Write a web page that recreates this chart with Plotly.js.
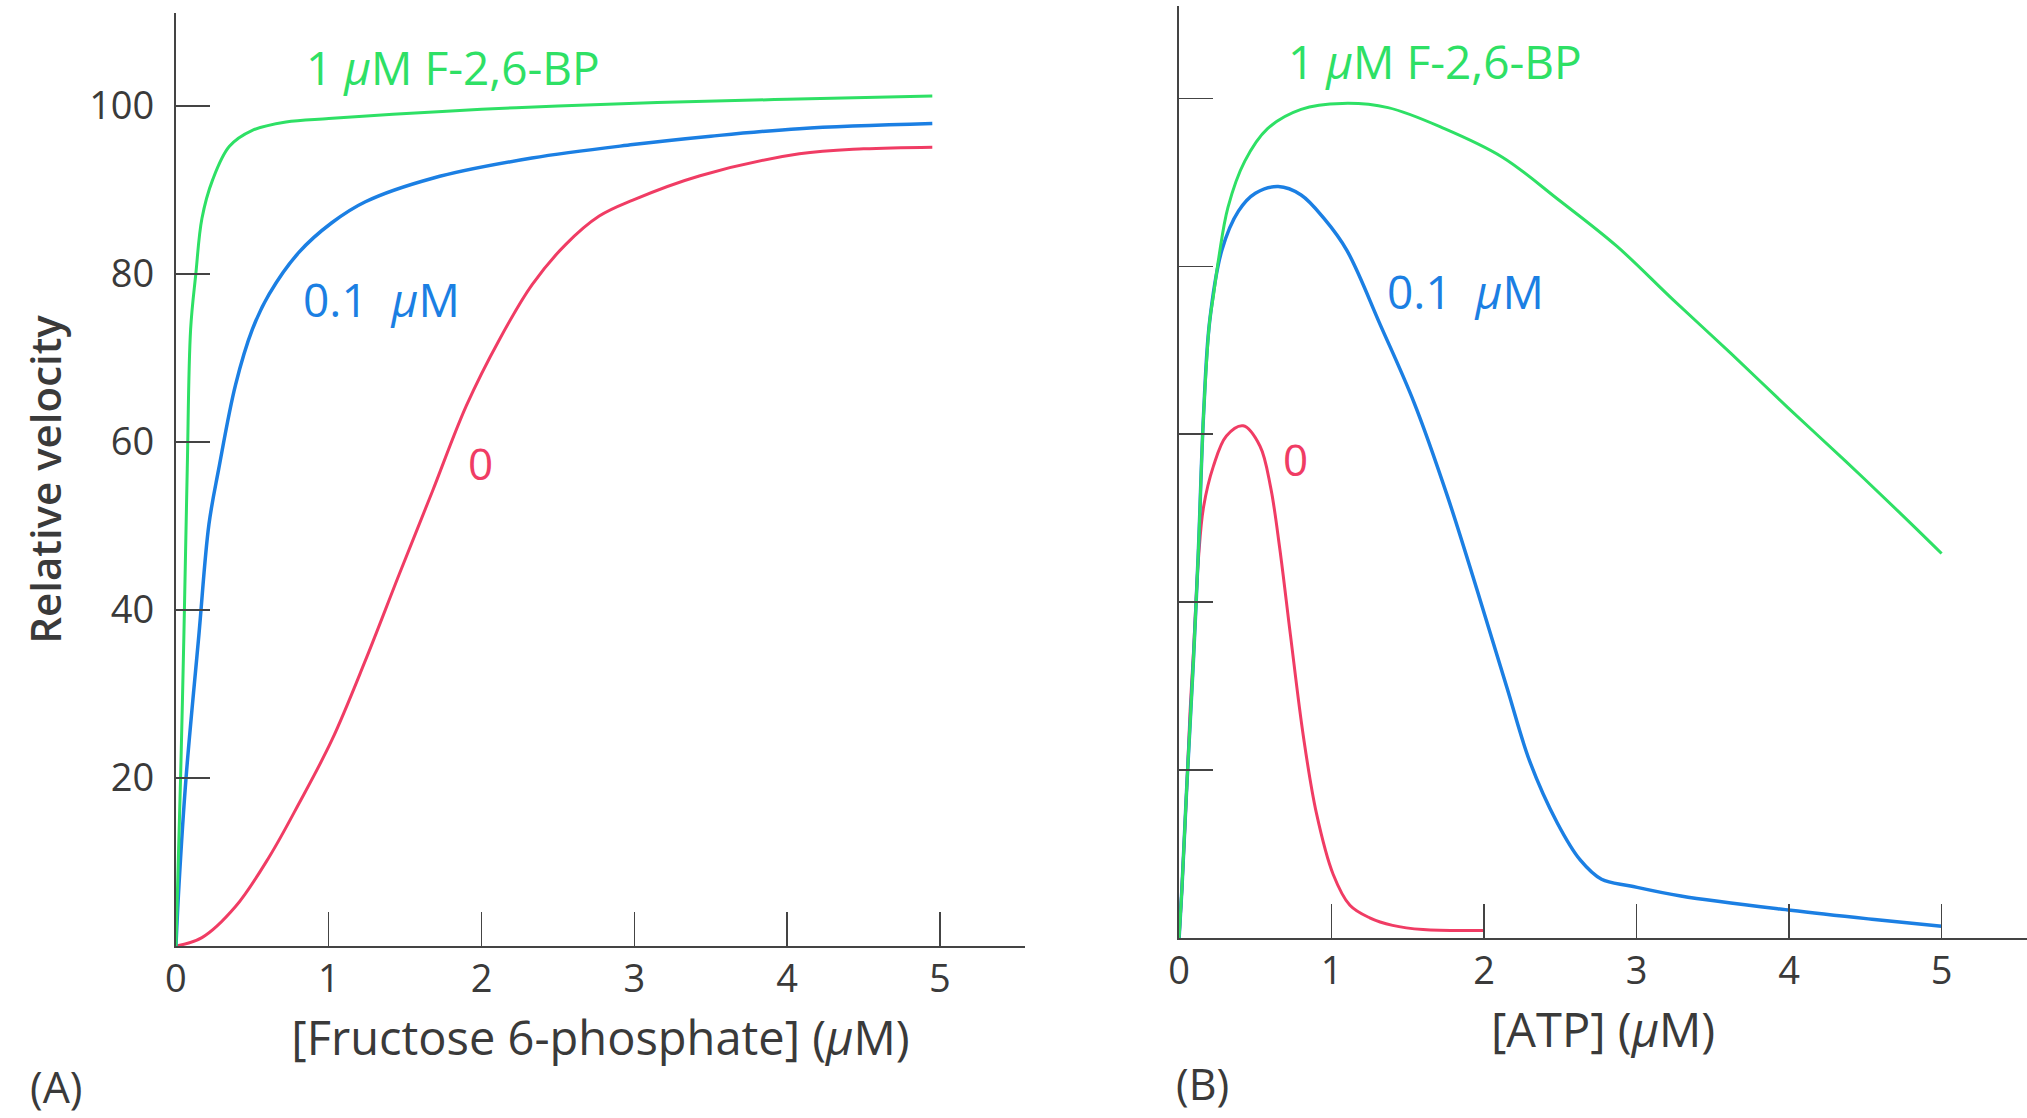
<!DOCTYPE html>
<html>
<head>
<meta charset="utf-8">
<script src="https://cdn.plot.ly/plotly-3.0.1.min.js"></script>
<style>html,body{margin:0;padding:0;background:#fff;}#chart{width:2027px;height:1118px;}</style>
</head>
<body>
<div id="chart"></div>
<script>
// Panel A: velocity vs [Fructose 6-phosphate]
const xA_green = [0, 0.031, 0.052, 0.074, 0.096, 0.13, 0.17, 0.24, 0.35, 0.5, 0.72, 1.0, 1.42, 2.0, 2.5, 3.15, 4.0, 4.95];
const yA_green = [0, 20.5, 37, 56.8, 73.4, 80, 86.6, 91.2, 95.2, 97.1, 98.1, 98.5, 99.0, 99.6, 100.0, 100.4, 100.8, 101.2];
const xA_blue = [0, 0.02, 0.066, 0.15, 0.216, 0.28, 0.39, 0.5, 0.61, 0.806, 1.02, 1.24, 1.68, 2.33, 2.99, 3.5, 4.08, 4.95];
const yA_blue = [0, 7.3, 20, 37, 50.2, 56.8, 66.8, 73.4, 77.6, 82.6, 86.1, 88.6, 91.4, 93.8, 95.4, 96.4, 97.3, 97.9];
const xA_red = [0, 0.17, 0.39, 0.61, 0.806, 1.02, 1.24, 1.46, 1.68, 1.9, 2.12, 2.33, 2.55, 2.77, 2.99, 3.43, 4.08, 4.5, 4.95];
const yA_red = [0, 1, 4.7, 10.6, 17, 24.5, 34, 44.2, 54.2, 64.3, 72.3, 78.7, 83.5, 86.9, 88.8, 91.7, 94.3, 94.9, 95.1];

// Panel B: velocity vs [ATP]
const xB_green = [0, 0.018, 0.05, 0.094, 0.127, 0.16, 0.2, 0.225, 0.26, 0.32, 0.43, 0.58, 0.8, 1.07, 1.37, 1.74, 2.12, 2.49, 2.87, 3.24, 3.62, 3.99, 4.37, 4.74, 5.0];
const yB_green = [0, 5.7, 17.9, 33.1, 46.4, 62.2, 73.4, 76.5, 81, 87, 92.5, 96.4, 98.7, 99.4, 98.9, 96.4, 93, 87.9, 82.4, 76, 69.6, 63.2, 56.8, 50.4, 45.8];
const xB_blue = [0, 0.018, 0.05, 0.094, 0.127, 0.16, 0.2, 0.28, 0.39, 0.5, 0.65, 0.8, 0.95, 1.1, 1.32, 1.54, 1.76, 1.97, 2.15, 2.3, 2.48, 2.63, 2.77, 2.96, 3.29, 4.01, 4.56, 5.0];
const yB_blue = [0, 5.7, 17.9, 33.1, 46.4, 62.2, 73.4, 81.9, 86.6, 88.7, 89.5, 88.5, 85.7, 81.9, 73, 63.8, 52.6, 40.5, 29.8, 21, 13.7, 9.3, 7.0, 6.2, 5.0, 3.3, 2.2, 1.4];
const xB_red = [0, 0.018, 0.05, 0.072, 0.094, 0.127, 0.16, 0.225, 0.31, 0.42, 0.53, 0.6, 0.66, 0.73, 0.815, 0.9, 1.01, 1.12, 1.25, 1.4, 1.6, 2.0];
const yB_red = [0, 5.7, 17.9, 27, 34, 45.2, 51.3, 56.2, 59.8, 61.0, 58.6, 53.7, 46.4, 36.1, 24, 14.9, 7.6, 3.9, 2.4, 1.5, 1.0, 0.9];

const xTicks = [0, 1, 2, 3, 4, 5];
const yTicks = [20, 40, 60, 80, 100];
const yTickText = ['20', '40', '60', '80', '100'];

const GREEN = '#2ee065', BLUE = '#1b7fe3', RED = '#f03c64', INK = '#3a3a3a';
const FONT = 'Open Sans, Noto Sans, sans-serif';

function line(x, y, color, w, xa, ya) {
  return {x: x, y: y, xaxis: xa, yaxis: ya, type: 'scatter', mode: 'lines',
    line: {color: color, width: w, shape: 'spline', smoothing: 1}, hoverinfo: 'skip', showlegend: false};
}

const data = [
  line(xA_red, yA_red, RED, 3, 'x', 'y'),
  line(xA_blue, yA_blue, BLUE, 3.5, 'x', 'y'),
  line(xA_green, yA_green, GREEN, 3, 'x', 'y'),
  line(xB_red, yB_red, RED, 3, 'x2', 'y2'),
  line(xB_blue, yB_blue, BLUE, 3.5, 'x2', 'y2'),
  line(xB_green, yB_green, GREEN, 3, 'x2', 'y2')
];

const axCommon = {showgrid: false, zeroline: false, showline: true, linecolor: '#444', linewidth: 2,
  ticks: 'inside', ticklen: 34, tickwidth: 1.5, tickcolor: '#444', fixedrange: true,
  tickfont: {family: FONT, size: 38, color: INK}};

function lbl(xref, yref, x, y, text, color, size) {
  return {xref: xref, yref: yref, x: x, y: y, text: text, showarrow: false, borderpad: 0,
    xanchor: 'center', yanchor: 'middle', font: {family: FONT, size: size, color: color}};
}

const layout = {
  width: 2027, height: 1118,
  margin: {l: 0, r: 0, t: 0, b: 0},
  paper_bgcolor: '#fff', plot_bgcolor: 'rgba(0,0,0,0)',
  font: {family: FONT, color: INK},
  xaxis: Object.assign({}, axCommon, {domain: [0.0868, 0.5057], range: [0, 5.557], anchor: 'y',
    tickvals: xTicks, ticktext: xTicks.map(String), ticklabelstandoff: -2,
    title: {text: '[Fructose 6-phosphate] (<i>μ</i>M)', font: {family: FONT, size: 47, color: INK}, standoff: 20}}),
  yaxis: Object.assign({}, axCommon, {domain: [0.1538, 0.9884], range: [0, 111.07], anchor: 'x',
    tickvals: yTicks, ticktext: yTickText, ticklabelstandoff: 12,
    title: {text: 'Relative velocity', font: {family: FONT, size: 42, color: INK, weight: 600}, standoff: 14}}),
  xaxis2: Object.assign({}, axCommon, {domain: [0.5817, 1.0], range: [0, 5.56], anchor: 'y2',
    tickvals: xTicks, ticktext: xTicks.map(String), ticklabelstandoff: -2,
    title: {text: '[ATP] (<i>μ</i>M)', font: {family: FONT, size: 47, color: INK}, standoff: 20}}),
  yaxis2: Object.assign({}, axCommon, {domain: [0.161, 0.9946], range: [0, 111], anchor: 'x2',
    tickvals: yTicks, showticklabels: false}),
  annotations: [
    lbl('x', 'y', 1.815, 104.6, '1 <i>μ</i>M F-2,6-BP', GREEN, 46),
    lbl('x', 'y', 1.343, 77, '0.1&nbsp; <i>μ</i>M', BLUE, 46),
    lbl('x', 'y', 1.99, 57.5, '0', RED, 44),
    lbl('x2', 'y2', 1.68, 104.4, '1 <i>μ</i>M F-2,6-BP', GREEN, 46),
    lbl('x2', 'y2', 1.88, 77.1, '0.1&nbsp; <i>μ</i>M', BLUE, 46),
    lbl('x2', 'y2', 0.76, 57, '0', RED, 44),
    lbl('paper', 'paper', 0.0281, 0.028, '(A)', INK, 43),
    lbl('paper', 'paper', 0.593, 0.0313, '(B)', INK, 43)
  ]
};

Plotly.newPlot('chart', data, layout, {displayModeBar: false, staticPlot: true});
</script>
</body>
</html>
